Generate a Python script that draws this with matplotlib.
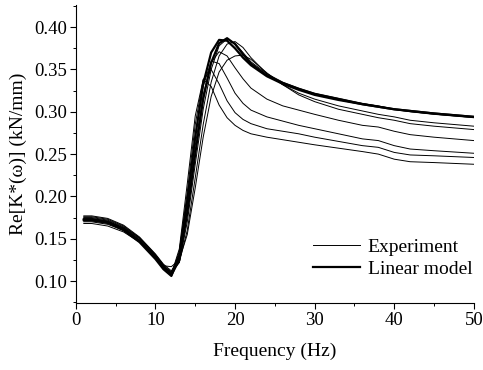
import matplotlib
matplotlib.use("Agg")
import matplotlib.pyplot as plt
from matplotlib.ticker import MultipleLocator

plt.rcParams["font.family"] = ["Liberation Serif", "DejaVu Serif"]

# frequency grid (Hz)
freq = [1, 2, 4, 6, 8, 10, 11, 12, 13, 14, 15, 16, 17, 18, 19, 20, 21, 22,
        24, 26, 28, 30, 33, 36, 38, 40, 42, 45, 50]

# measured curves (thin)
exp_1 = [0.176, 0.176, 0.173, 0.165, 0.151, 0.131, 0.119, 0.110, 0.122, 0.170, 0.238, 0.303, 0.350, 0.378,
         0.386, 0.381, 0.370, 0.359, 0.345, 0.335, 0.328, 0.322, 0.316, 0.310, 0.307, 0.303, 0.300, 0.297, 0.293]
exp_2 = [0.170, 0.170, 0.167, 0.160, 0.147, 0.128, 0.117, 0.111, 0.122, 0.160, 0.222, 0.285, 0.335, 0.366,
         0.380, 0.383, 0.376, 0.364, 0.345, 0.332, 0.322, 0.315, 0.307, 0.301, 0.297, 0.294, 0.290, 0.287, 0.283]
exp_3 = [0.168, 0.168, 0.165, 0.158, 0.146, 0.128, 0.118, 0.117, 0.125, 0.155, 0.210, 0.270, 0.318, 0.347,
         0.361, 0.366, 0.367, 0.362, 0.346, 0.332, 0.320, 0.312, 0.303, 0.297, 0.293, 0.290, 0.286, 0.283, 0.279]
exp_4 = [0.177, 0.177, 0.174, 0.166, 0.152, 0.132, 0.120, 0.112, 0.128, 0.185, 0.260, 0.320, 0.358, 0.371,
         0.366, 0.352, 0.339, 0.328, 0.315, 0.307, 0.302, 0.297, 0.290, 0.284, 0.282, 0.277, 0.273, 0.270, 0.266]
exp_5 = [0.174, 0.174, 0.171, 0.163, 0.150, 0.130, 0.118, 0.109, 0.132, 0.195, 0.272, 0.330, 0.360, 0.357,
         0.340, 0.322, 0.310, 0.302, 0.294, 0.289, 0.284, 0.280, 0.274, 0.268, 0.266, 0.260, 0.256, 0.254, 0.251]
exp_6 = [0.175, 0.175, 0.172, 0.164, 0.151, 0.131, 0.119, 0.108, 0.135, 0.205, 0.285, 0.338, 0.350, 0.333,
         0.313, 0.299, 0.291, 0.286, 0.280, 0.277, 0.274, 0.270, 0.265, 0.260, 0.258, 0.252, 0.249, 0.248, 0.246]
exp_7 = [0.171, 0.171, 0.168, 0.161, 0.148, 0.129, 0.117, 0.108, 0.138, 0.215, 0.295, 0.338, 0.330, 0.308,
         0.293, 0.284, 0.278, 0.274, 0.270, 0.267, 0.264, 0.261, 0.257, 0.253, 0.250, 0.244, 0.241, 0.240, 0.238]

# model curves (thick)
model_1 = [0.173, 0.173, 0.170, 0.162, 0.148, 0.128, 0.116, 0.107, 0.125, 0.180, 0.250, 0.315, 0.358, 0.381,
           0.387, 0.380, 0.368, 0.357, 0.343, 0.334, 0.327, 0.321, 0.315, 0.309, 0.306, 0.303, 0.301, 0.298, 0.294]
model_2 = [0.172, 0.172, 0.169, 0.160, 0.146, 0.126, 0.114, 0.106, 0.130, 0.195, 0.270, 0.333, 0.370, 0.385,
           0.384, 0.375, 0.364, 0.355, 0.342, 0.333, 0.326, 0.320, 0.314, 0.309, 0.306, 0.303, 0.301, 0.298, 0.294]

experiments = [exp_1, exp_2, exp_3, exp_4, exp_5, exp_6, exp_7]
models = [model_1, model_2]

fig = plt.figure(figsize=(4.83, 3.70), dpi=100)
ax = fig.add_axes([0.157, 0.181, 0.824, 0.805])

for i, y in enumerate(experiments):
    ax.plot(freq, y, color="black", lw=0.7, label="Experiment" if i == 0 else None)
for i, y in enumerate(models):
    ax.plot(freq, y, color="black", lw=1.6, label="Linear model" if i == 0 else None)

ax.set_xlim(0, 50)
ax.set_ylim(0.074, 0.426)
ax.xaxis.set_major_locator(MultipleLocator(10))
ax.xaxis.set_minor_locator(MultipleLocator(5))
ax.yaxis.set_minor_locator(MultipleLocator(0.025))
ax.set_yticks([0.10, 0.15, 0.20, 0.25, 0.30, 0.35, 0.40])
ax.set_yticklabels(["0.10", "0.15", "0.20", "0.25", "0.30", "0.35", "0.40"])

ax.spines["top"].set_visible(False)
ax.spines["right"].set_visible(False)
ax.tick_params(which="major", direction="out", length=4.5, width=0.8, labelsize=13.5, pad=2)
ax.tick_params(which="minor", direction="out", length=2.5, width=0.7)

ax.set_xlabel("Frequency (Hz)", fontsize=14, labelpad=10)
ax.set_ylabel("Re[K*(ω)] (kN/mm)", fontsize=14, labelpad=5)

ax.legend(loc="lower right", bbox_to_anchor=(1.04, 0.025), frameon=False, fontsize=14,
          handlelength=2.4, handletextpad=0.4, labelspacing=0.25)

fig.savefig("out.png", dpi=100)
